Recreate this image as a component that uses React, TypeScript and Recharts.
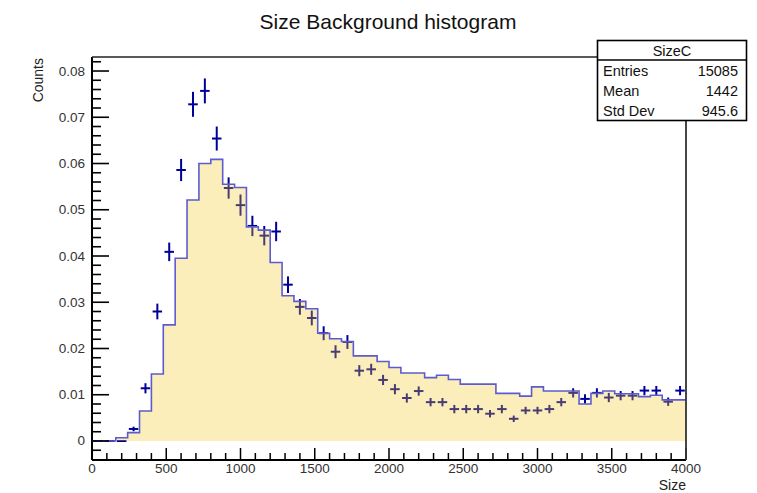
import React from "react"
import { ComposedChart, Area, Scatter, ErrorBar, XAxis, YAxis } from "recharts"

// 50 bins, 80 wide, 0..4000
const binWidth = 80
const binLows = Array.from({ length: 50 }, (_, i) => i * binWidth)

// background (filled) histogram
const bkgCounts = [
  0, 0, 0.0007, 0.0018, 0.0065, 0.0145, 0.0251, 0.0395, 0.0521, 0.06,
  0.0609, 0.0555, 0.0548, 0.0463, 0.0456, 0.0386, 0.0314, 0.0302, 0.0286, 0.0233,
  0.0221, 0.0215, 0.0184, 0.0184, 0.0172, 0.0159, 0.0147, 0.0147, 0.0137, 0.0142,
  0.0133, 0.0123, 0.0123, 0.0123, 0.0103, 0.0103, 0.0097, 0.0117, 0.0108, 0.0108,
  0.0108, 0.008, 0.0103, 0.0108, 0.0102, 0.0102, 0.0096, 0.0099, 0.0089, 0.0089,
]

// data points (crosses)
const dataCounts = [
  0, 0, 0, 0.0026, 0.0114, 0.028, 0.0409, 0.0586, 0.0728, 0.0757,
  0.0654, 0.0547, 0.051, 0.0465, 0.0444, 0.0453, 0.0338, 0.029, 0.0266, 0.0233,
  0.0193, 0.0214, 0.0152, 0.0155, 0.0132, 0.0112, 0.0093, 0.0108, 0.0084, 0.0084,
  0.0069, 0.0069, 0.0069, 0.0059, 0.0069, 0.0048, 0.0066, 0.0066, 0.0069, 0.0084,
  0.0104, 0.0091, 0.0104, 0.0094, 0.0098, 0.0098, 0.0109, 0.0109, 0.0085, 0.0109,
]

const dataErrors = [
  0, 0, 0, 0.0005, 0.0011, 0.0017, 0.002, 0.0024, 0.0027, 0.0027,
  0.0026, 0.0023, 0.0023, 0.0022, 0.0021, 0.0021, 0.0018, 0.0017, 0.0016, 0.0015,
  0.0014, 0.0015, 0.0012, 0.0012, 0.0011, 0.0011, 0.001, 0.001, 0.0009, 0.0009,
  0.0009, 0.0009, 0.0009, 0.0008, 0.0009, 0.0007, 0.0008, 0.0008, 0.0009, 0.0009,
  0.001, 0.001, 0.001, 0.001, 0.001, 0.001, 0.001, 0.001, 0.0009, 0.001,
]

const xMajorTicks = [0, 500, 1000, 1500, 2000, 2500, 3000, 3500, 4000]
const yMajorTicks = [0, 0.01, 0.02, 0.03, 0.04, 0.05, 0.06, 0.07, 0.08]
const statsRows = [
  ["Entries", "15085"],
  ["Mean", "1442"],
  ["Std Dev", "945.6"],
]

const W = 757
const H = 493
const PLOT_LEFT = 92
const PLOT_RIGHT = 686
const PLOT_TOP = 57
const PLOT_BOTTOM = 460
const Y_MIN = -0.00411
const Y_MAX = 0.08303
const FONT = "'Liberation Sans', Arial, Helvetica, sans-serif"

const histRows = [
  ...binLows.map((x, i) => ({ x, h: bkgCounts[i] })),
  { x: 4000, h: bkgCounts[bkgCounts.length - 1] },
]
const pointRows = binLows.map((x, i) => ({
  x: x + binWidth / 2,
  y: dataCounts[i],
  ey: dataErrors[i],
  ex: 32,
}))

const xAllTicks = Array.from({ length: 41 }, (_, i) => i * 100)
const yAllTicks = Array.from({ length: 43 }, (_, i) => Math.round((i - 1) * 2) / 1000)

const isMajor = (list: number[], v: number) => list.some((t) => Math.abs(t - v) < 1e-9)

function XTick(props: any) {
  const { x, payload } = props
  const major = isMajor(xMajorTicks, payload.value)
  return (
    <g>
      <line x1={x} x2={x} y1={PLOT_BOTTOM} y2={PLOT_BOTTOM - (major ? 12 : 7)} stroke="#000" strokeWidth={1.5} />
      {major && (
        <text x={x} y={PLOT_BOTTOM + 13} textAnchor="middle" fontSize={13.5} fontFamily={FONT} fill="#333">
          {payload.value}
        </text>
      )}
    </g>
  )
}

function YTick(props: any) {
  const { y, payload } = props
  const v = payload.value
  const major = isMajor(yMajorTicks, v)
  return (
    <g>
      <line x1={PLOT_LEFT} x2={PLOT_LEFT + (major ? 17 : 9)} y1={y} y2={y} stroke="#000" strokeWidth={1.6} />
      {major && (
        <text x={PLOT_LEFT - 7} y={y + 4.5} textAnchor="end" fontSize={13.5} fontFamily={FONT} fill="#333">
          {v === 0 ? "0" : v.toFixed(2)}
        </text>
      )}
    </g>
  )
}

export default function App() {
  return (
    <div style={{ position: "absolute", left: 0, top: 0, width: W, height: H, background: "#fff" }}>
      <ComposedChart
        width={W}
        height={H}
        margin={{ top: PLOT_TOP, right: W - PLOT_RIGHT, bottom: 3, left: PLOT_LEFT - 60 }}
      >
        <XAxis
          type="number"
          dataKey="x"
          domain={[0, 4000]}
          ticks={xAllTicks}
          interval={0}
          tick={<XTick />}
          tickLine={false}
          axisLine={{ stroke: "#000", strokeWidth: 2 }}
          height={30}
          allowDataOverflow
        />
        <YAxis
          type="number"
          domain={[Y_MIN, Y_MAX]}
          ticks={yAllTicks}
          interval={0}
          tick={<YTick />}
          tickLine={false}
          axisLine={{ stroke: "#000", strokeWidth: 2 }}
          width={60}
          allowDataOverflow
        />
        <Scatter data={pointRows} dataKey="y" shape={() => <g />} isAnimationActive={false}>
          <ErrorBar dataKey="ey" direction="y" width={0} stroke="#000099" strokeWidth={2} />
          <ErrorBar dataKey="ex" direction="x" width={0} stroke="#000099" strokeWidth={2} />
        </Scatter>
        {/* translucent fill drawn over the points, as in the original */}
        <Area
          {...({ zIndex: 900 } as any)}
          data={histRows}
          dataKey="h"
          type="stepAfter"
          baseValue={0}
          stroke="#5c5cd0"
          strokeWidth={1.6}
          fill="#f2c61c"
          fillOpacity={0.3}
          isAnimationActive={false}
        />
      </ComposedChart>

      <svg width={W} height={H} style={{ position: "absolute", left: 0, top: 0, pointerEvents: "none" }}>
        <line x1={PLOT_LEFT} x2={PLOT_RIGHT} y1={PLOT_TOP} y2={PLOT_TOP} stroke="#222" strokeWidth={1.3} />
        <line x1={PLOT_RIGHT} x2={PLOT_RIGHT} y1={PLOT_TOP} y2={PLOT_BOTTOM} stroke="#333" strokeWidth={1.8} />
        <text x={388} y={29} textAnchor="middle" fontSize={21} fontFamily={FONT} fill="#111">
          Size Background histogram
        </text>
        <text
          transform={`translate(43, ${PLOT_TOP + 1}) rotate(-90)`}
          textAnchor="end"
          fontSize={14}
          fontFamily={FONT}
          fill="#222"
        >
          Counts
        </text>
        <text x={PLOT_RIGHT} y={490} textAnchor="end" fontSize={14} fontFamily={FONT} fill="#222">
          Size
        </text>

        <rect x={597.5} y={40.5} width={149} height={80} fill="#fff" stroke="#000" strokeWidth={1.6} />
        <line x1={597.5} x2={746.5} y1={60} y2={60} stroke="#000" strokeWidth={1.4} />
        <text x={672} y={56} textAnchor="middle" fontSize={14.5} fontFamily={FONT} fill="#111">
          SizeC
        </text>
        {statsRows.map(([label, value], i) => (
          <g key={label}>
            <text x={603} y={76 + i * 20} fontSize={14.5} fontFamily={FONT} fill="#111">
              {label}
            </text>
            <text x={738} y={76 + i * 20} textAnchor="end" fontSize={14.5} fontFamily={FONT} fill="#111">
              {value}
            </text>
          </g>
        ))}
      </svg>
    </div>
  )
}
